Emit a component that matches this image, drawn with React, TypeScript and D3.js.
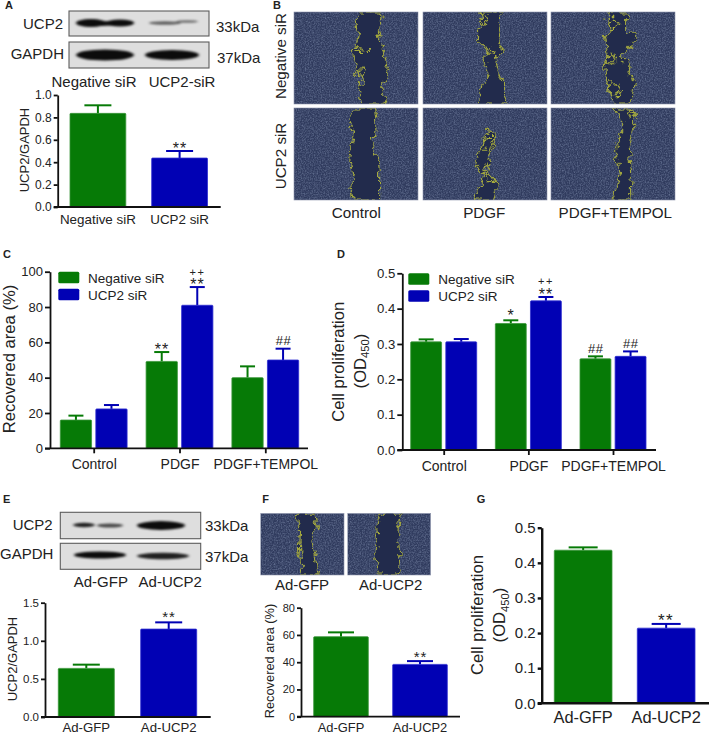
import * as d3 from "d3";
import { useEffect, useRef } from "react";

const FONT = "'Liberation Sans', Arial, sans-serif";
const GREEN = "#067a06";
const BLUE = "#0101b4";
const INK = "#222";

// panel A
const aCategories = ["Negative siR", "UCP2 siR"];
const aValues = [0.836, 0.437];
const aErrors = [0.908, 0.5];
const aTicks = [0, 0.2, 0.4, 0.6, 0.8, 1];

// panel C
const groups = ["Control", "PDGF", "PDGF+TEMPOL"];
const seriesNames = ["Negative siR", "UCP2 siR"];
const cNegative = [16, 49.2, 40];
const cNegativeErr = [18.5, 54.5, 46.4];
const cUcp2 = [22.3, 81, 50];
const cUcp2Err = [24.5, 91.3, 56.4];
const cTicks = [0, 20, 40, 60, 80, 100];

// panel D
const dNegative = [0.306, 0.358, 0.258];
const dNegativeErr = [0.313, 0.367, 0.265];
const dUcp2 = [0.306, 0.422, 0.265];
const dUcp2Err = [0.314, 0.433, 0.279];
const dTicks = [0, 0.1, 0.2, 0.3, 0.4, 0.5];

// panels E, F, G
const adCategories = ["Ad-GFP", "Ad-UCP2"];
const eValues = [0.638, 1.154];
const eErrors = [0.687, 1.242];
const eTicks = [0, 0.5, 1, 1.5];
const fValues = [58.7, 38.4];
const fErrors = [61.9, 40.8];
const fTicks = [0, 20, 40, 60, 80];
const gValues = [0.436, 0.214];
const gErrors = [0.444, 0.226];
const gTicks = [0, 0.1, 0.2, 0.3, 0.4, 0.5];

// wound outlines: [depth %, left edge %, right edge %]
type Row = [number, number, number];
const woundNegControl: Row[] = [[0, 53, 70], [9, 50, 70], [23, 52, 68], [38, 50, 72], [43, 47, 72], [54, 49, 74], [67, 52, 76], [72, 57, 75], [81, 53, 70], [92, 53, 73], [100, 54, 76]];
const woundNegPdgf: Row[] = [[0, 45, 64], [9, 48, 61], [22, 44, 62], [32, 44, 61], [42, 53, 64], [52, 50, 58], [67, 53, 61], [81, 48, 65], [92, 44, 65], [100, 45, 68]];
const woundNegTempol: Row[] = [[0, 46.5, 62], [9, 45, 61], [20, 48, 61], [27, 44, 68], [38, 45, 64], [49, 46.5, 56], [56, 43, 64], [67, 44, 63], [78, 46.5, 68], [88, 48, 67], [100, 50.5, 63]];
const woundUcpControl: Row[] = [[0, 48, 65], [13, 45, 66], [28, 48, 66], [42, 46, 62], [57, 45, 68], [71, 48, 69], [86, 45, 69], [100, 49, 69]];
const woundUcpPdgf: Row[] = [[25, 52, 52.5], [30, 50, 60], [42, 48, 56], [49, 45, 54], [62, 42, 52], [67, 46, 50], [70, 50, 53], [82, 47, 60], [93, 44, 58], [100, 41, 57]];
const woundUcpTempol: Row[] = [[0, 50.5, 64], [13, 57, 69], [28, 57, 65], [42, 53, 63], [57, 53, 64], [71, 56, 65], [86, 53, 64], [100, 49, 64.5]];
const woundAdGfp: Row[] = [[0, 43, 65], [22, 47, 68], [43, 46, 61], [65, 47, 65], [100, 51, 69]];
const woundAdUcp2: Row[] = [[0, 39, 65], [22, 35, 61], [43, 37, 60], [65, 33, 63], [100, 37, 61]];
// small closed loops inside the wound
const loopsNegControl: Row[][] = [[[39, 50, 51], [42, 52, 60], [44, 50, 59]], [[62, 50, 56], [66, 49, 58], [70, 52, 57]]];
const loopsNegPdgf: Row[][] = [[[3, 46, 50], [9, 47, 53], [14, 48, 51]], [[40, 50, 54], [46, 52, 57]]];
const loopsNegTempol: Row[][] = [[[8, 47, 53], [14, 46, 55], [20, 48, 52]], [[76, 47, 52], [84, 46, 56], [92, 48, 54]], [[46, 46, 50], [54, 44, 52]]];
const loopsUcpPdgf: Row[][] = [[[32, 51, 58], [38, 50, 55], [46, 47, 53]], [[72, 50, 54], [80, 52, 58]]];
const loopsUcpTempol: Row[][] = [[[5, 64, 68], [10, 63, 69]]];

function Axis({ scale, side, ticks, tickSize, padding, fontSize, format, width }: any) {
  const ref = useRef<SVGGElement>(null);
  useEffect(() => {
    if (!ref.current) return;
    const axis = (side === "left" ? d3.axisLeft(scale) : d3.axisBottom(scale))
      .tickSizeInner(tickSize)
      .tickSizeOuter(0)
      .tickPadding(padding);
    if (ticks) axis.tickValues(ticks);
    if (format) axis.tickFormat(format);
    const g = d3.select(ref.current).call(axis as any);
    g.attr("font-family", FONT).attr("font-size", fontSize);
    g.selectAll("text").attr("fill", INK);
    g.selectAll("line").attr("stroke", "#111").attr("stroke-width", width);
    g.select(".domain").attr("stroke", "#111").attr("stroke-width", width);
    if (side !== "left") g.select(".domain").remove();
  }, [scale, side, ticks, tickSize, padding, fontSize, format, width]);
  return <g ref={ref} />;
}

function Bars({ bars, y, capWidth, strokeWidth = 2 }: any) {
  return (
    <g>
      {bars.map((b: any, i: number) => (
        <g key={i}>
          <line x1={b.x + b.w / 2} x2={b.x + b.w / 2} y1={y(b.value)} y2={y(b.err)} stroke={b.color} strokeWidth={strokeWidth} />
          <line x1={b.x + b.w / 2 - capWidth / 2} x2={b.x + b.w / 2 + capWidth / 2} y1={y(b.err)} y2={y(b.err)} stroke={b.color} strokeWidth={strokeWidth} />
          <rect x={b.x} y={y(b.value)} width={b.w} height={y(0) - y(b.value)} fill={b.color} stroke={b.color === GREEN ? "#3a953a" : "#2f2fd0"} strokeWidth={0.8} rx={0.8} />
        </g>
      ))}
    </g>
  );
}

function Mark({ x, y, text, size = 16, spacing = 1 }: any) {
  return (
    <text x={x} y={y} textAnchor="middle" fontSize={size} letterSpacing={spacing} fill={INK} fontFamily={FONT}>
      {text}
    </text>
  );
}

function Label({ x, y, text, size = 15, anchor = "middle", rotate = false, bold = false }: any) {
  return (
    <text
      x={rotate ? 0 : x}
      y={rotate ? 0 : y}
      transform={rotate ? `translate(${x},${y}) rotate(-90)` : undefined}
      textAnchor={anchor}
      fontSize={size}
      fontWeight={bold ? "bold" : "normal"}
      fill={INK}
      fontFamily={FONT}
    >
      {text}
    </text>
  );
}

function OdLabel({ x, y, size }: any) {
  return (
    <text transform={`translate(${x},${y}) rotate(-90)`} textAnchor="middle" fontSize={size} fill={INK} fontFamily={FONT}>
      (OD<tspan fontSize={size * 0.68} dy={size * 0.22}>450</tspan>
      <tspan dy={-size * 0.22}>)</tspan>
    </text>
  );
}

function BarChart({ left, right, bottom, top, max, ticks, fmt, fontSize, start, end, barWidth, categories, values, errors, labelSize, labelY, capWidth, axisWidth = 1.8, stroke = 2 }: any) {
  const y = d3.scaleLinear().domain([0, max]).range([bottom, top]);
  const x = d3.scaleBand<string>().domain(categories).range([start, end]);
  const step = (end - start - barWidth) / (categories.length - 1);
  x.paddingInner(1 - barWidth / step).paddingOuter(0);
  const bars = categories.map((c: string, i: number) => ({ x: x(c), w: x.bandwidth(), value: values[i], err: errors[i], color: i === 0 ? GREEN : BLUE }));
  return (
    <g>
      <Bars bars={bars} y={y} capWidth={capWidth} strokeWidth={stroke} />
      <g transform={`translate(${left},0)`}>
        <Axis scale={y} side="left" ticks={ticks} tickSize={4} padding={2} fontSize={fontSize} format={fmt} width={axisWidth} />
      </g>
      <line x1={left - 4} x2={right} y1={y(0)} y2={y(0)} stroke="#111" strokeWidth={axisWidth} />
      <g transform={`translate(0,${labelY})`}>
        <Axis scale={x} side="bottom" tickSize={0} padding={0} fontSize={labelSize} width={0} />
      </g>
    </g>
  );
}

function GroupChart({ left, right, bottom, top, max, ticks, fmt, fontSize, first, last, inner, neg, negErr, ucp, ucpErr, cap, labelY }: any) {
  const y = d3.scaleLinear().domain([0, max]).range([bottom, top]);
  const x = d3.scalePoint<string>().domain(groups).range([first, last]);
  const sub = d3.scaleBand<string>().domain(seriesNames).range([-inner, inner]).paddingInner(0.12);
  const bars = groups.flatMap((g, i) => [
    { x: x(g)! + sub(seriesNames[0])!, w: sub.bandwidth(), value: neg[i], err: negErr[i], color: GREEN },
    { x: x(g)! + sub(seriesNames[1])!, w: sub.bandwidth(), value: ucp[i], err: ucpErr[i], color: BLUE },
  ]);
  return (
    <g>
      <Bars bars={bars} y={y} capWidth={cap} />
      <g transform={`translate(${left},0)`}>
        <Axis scale={y} side="left" ticks={ticks} tickSize={5} padding={2} fontSize={fontSize} format={fmt} width={1.8} />
      </g>
      <line x1={left - 5} x2={right} y1={y(0)} y2={y(0)} stroke="#111" strokeWidth={1.8} />
      <g transform={`translate(0,${bottom})`}>
        <Axis scale={x} side="bottom" tickSize={5} padding={labelY} fontSize={14} width={1.8} />
      </g>
    </g>
  );
}

function Legend({ x, y, textX }: any) {
  return (
    <g>
      {seriesNames.map((s, i) => (
        <g key={s}>
          <rect x={x} y={y + i * 17} width={21} height={11.5} rx={1.5} fill={i === 0 ? GREEN : BLUE} />
          <Label x={textX} y={y + 11 + i * 17} text={s} size={13.5} anchor="start" />
        </g>
      ))}
    </g>
  );
}

function Tile({ id, x0, x1, y0, y1, rows, loops = [] }: any) {
  const x = d3.scaleLinear().domain([0, 100]).range([x0, x1]);
  const y = d3.scaleLinear().domain([0, 100]).range([y0, y1]);
  const area = d3.area<Row>().x0((d) => x(d[1])).x1((d) => x(d[2])).y((d) => y(d[0]));
  return (
    <g>
      <clipPath id={id}>
        <rect x={x0} y={y0} width={x1 - x0} height={y1 - y0} />
      </clipPath>
      <g clipPath={`url(#${id})`}>
        <rect x={x0} y={y0} width={x1 - x0} height={y1 - y0} fill="#303b5e" />
        <rect x={x0} y={y0} width={x1 - x0} height={y1 - y0} filter="url(#cells)" />
        <g filter="url(#jag)">
          <path d={area(rows) ?? ""} fill="#222b4c" stroke="none" />
          <path d={area(rows) ?? ""} fill="none" stroke="#a6ab3e" strokeWidth={1.1} />
          {loops.map((l: Row[], i: number) => (
            <path key={i} d={area(l) ?? ""} fill="none" stroke="#a6ab3e" strokeWidth={1.1} />
          ))}
        </g>
      </g>
      <rect x={x0} y={y0} width={x1 - x0} height={y1 - y0} fill="none" stroke="#8c93ab" strokeWidth={0.6} />
    </g>
  );
}

function Blot({ x, y, w, h, bands }: any) {
  return (
    <g>
      <rect x={x} y={y} width={w} height={h} fill="#dedede" />
      <g filter="url(#band)">
        {bands.map((b: number[], i: number) => (
          <ellipse key={i} cx={b[0]} cy={b[1]} rx={b[2]} ry={b[3]} fill="#0c0c0c" opacity={b[4]} />
        ))}
      </g>
      <rect x={x} y={y} width={w} height={h} fill="none" stroke="#5c5c5c" strokeWidth={1.1} />
    </g>
  );
}

export default function App() {
  const yC = d3.scaleLinear().domain([0, 100]).range([448.3, 271.7]);
  const yD = d3.scaleLinear().domain([0, 0.5]).range([450, 273.3]);
  const yA = d3.scaleLinear().domain([0, 1]).range([207, 95]);
  const yE = d3.scaleLinear().domain([0, 1.5]).range([717, 602.7]);
  const yF = d3.scaleLinear().domain([0, 80]).range([716.7, 607.7]);
  const yG = d3.scaleLinear().domain([0, 0.5]).range([703.3, 527.7]);
  const f1 = d3.format(".1f");
  return (
    <svg width={709} height={735} style={{ position: "absolute", left: 0, top: 0, background: "#fff" }}>
      <defs>
        <filter id="cells" x="0" y="0" width="100%" height="100%" colorInterpolationFilters="sRGB">
          <feTurbulence type="fractalNoise" baseFrequency="0.75" numOctaves={2} seed={4} />
          <feColorMatrix type="matrix" values="0 0 0 0 0.6  0 0 0 0 0.66  0 0 0 0 0.78  0.9 0 0 0 -0.33" />
          <feGaussianBlur stdDeviation="0.35" />
        </filter>
        <filter id="jag" x="-5%" y="-5%" width="110%" height="110%" colorInterpolationFilters="sRGB">
          <feTurbulence type="fractalNoise" baseFrequency="0.16" numOctaves={2} seed={9} result="n" />
          <feDisplacementMap in="SourceGraphic" in2="n" scale={11} xChannelSelector="R" yChannelSelector="G" />
        </filter>
        <filter id="band" x="-10%" y="-40%" width="120%" height="180%" colorInterpolationFilters="sRGB">
          <feGaussianBlur stdDeviation="1.6 1.1" />
        </filter>
      </defs>

      {/* A */}
      <Label x={5} y={9} text="A" size={11} anchor="start" bold />
      <Blot x={69} y={11} w={140} h={25} bands={[[91, 23, 15, 4, 1], [120, 23, 14, 3.4, 1], [104, 23.5, 12, 2.4, 0.9], [165, 23, 16, 1.8, 0.6], [187, 21.5, 11, 1.3, 0.55]]} />
      <Blot x={69} y={42} w={140} h={26} bands={[[105, 55, 29, 5.5, 1], [172, 55, 27, 5, 1]]} />
      <Label x={63} y={29} text="UCP2" anchor="end" />
      <Label x={64} y={59} text="GAPDH" anchor="end" />
      <Label x={216} y={32} text="33kDa" anchor="start" />
      <Label x={217} y={63} text="37kDa" anchor="start" />
      <Label x={94} y={87} text="Negative siR" />
      <Label x={182} y={87} text="UCP2-siR" />
      <BarChart left={57.7} right={220.7} bottom={207} top={95} max={1} ticks={aTicks} fmt={f1} fontSize={12} start={70} end={207.5} barWidth={55.8} categories={aCategories} values={aValues} errors={aErrors} labelSize={13.4} labelY={214} capWidth={27} />
      <Label x={29} y={150} text="UCP2/GAPDH" size={13} rotate />
      <Mark x={180} y={yA(aErrors[1]) + 3} text="**" />

      {/* B */}
      <Label x={273} y={9} text="B" size={11} anchor="start" bold />
      <Tile id="t1" x0={294} x1={418} y0={12} y1={104} rows={woundNegControl} loops={loopsNegControl} />
      <Tile id="t2" x0={423} x1={547} y0={12} y1={104} rows={woundNegPdgf} loops={loopsNegPdgf} />
      <Tile id="t3" x0={551} x1={675} y0={12} y1={104} rows={woundNegTempol} loops={loopsNegTempol} />
      <Tile id="t4" x0={294} x1={418} y0={108} y1={200} rows={woundUcpControl} />
      <Tile id="t5" x0={423} x1={547} y0={108} y1={200} rows={woundUcpPdgf} loops={loopsUcpPdgf} />
      <Tile id="t6" x0={551} x1={675} y0={108} y1={200} rows={woundUcpTempol} loops={loopsUcpTempol} />
      <Label x={285.7} y={56} text="Negative siR" size={15.2} rotate />
      <Label x={285.7} y={156} text="UCP2 siR" size={15.2} rotate />
      <Label x={356.3} y={218.3} text="Control" size={15.2} />
      <Label x={484.3} y={218.3} text="PDGF" size={15.2} />
      <Label x={615.3} y={218.3} text="PDGF+TEMPOL" size={15.2} />

      {/* C */}
      <Label x={3} y={257.7} text="C" size={11} anchor="start" bold />
      <GroupChart left={50} right={308} bottom={448.3} top={271.7} max={100} ticks={cTicks} fontSize={13} first={93.7} last={265.3} inner={33.4} neg={cNegative} negErr={cNegativeErr} ucp={cUcp2} ucpErr={cUcp2Err} cap={15} labelY={6} />
      <Legend x={58.3} y={271.7} textX={88} />
      <Label x={15} y={359} text="Recovered area (%)" size={16.6} rotate />
      <Mark x={162} y={yC(cNegativeErr[1]) + 3} text="**" />
      <Mark x={197.5} y={yC(cUcp2Err[1]) + 3} text="**" />
      <Mark x={197.5} y={yC(cUcp2Err[1]) - 11.5} text="++" size={11} spacing={1.5} />
      <Mark x={283.5} y={yC(cUcp2Err[2]) - 3.3} text="##" size={13} spacing={0.5} />

      {/* D */}
      <Label x={337} y={257.7} text="D" size={11} anchor="start" bold />
      <GroupChart left={402.3} right={656} bottom={450} top={273.3} max={0.5} ticks={dTicks} fmt={f1} fontSize={13.2} first={443.7} last={613} inner={33} neg={dNegative} negErr={dNegativeErr} ucp={dUcp2} ucpErr={dUcp2Err} cap={15} labelY={6} />
      <Legend x={408.3} y={273.3} textX={438.3} />
      <Label x={344} y={361.7} text="Cell proliferation" size={16.6} rotate />
      <OdLabel x={365.6} y={361} size={16.6} />
      <Mark x={511} y={yD(dNegativeErr[1]) + 1} text="*" />
      <Mark x={546} y={yD(dUcp2Err[1]) + 3} text="**" />
      <Mark x={546} y={yD(dUcp2Err[1]) - 11.5} text="++" size={11} spacing={1.5} />
      <Mark x={595.7} y={yD(dNegativeErr[2]) - 3.3} text="##" size={13} spacing={0.5} />
      <Mark x={630.7} y={yD(dUcp2Err[2]) - 3.3} text="##" size={13} spacing={0.5} />

      {/* E */}
      <Label x={3} y={502.7} text="E" size={11} anchor="start" bold />
      <Blot x={60.3} y={512.3} w={140.4} h={26.4} bands={[[84, 525, 11, 2.2, 0.9], [110, 525.5, 13, 2, 0.7], [161, 525.5, 24, 4.4, 1]]} />
      <Blot x={60.3} y={543.3} w={140.4} h={26} bands={[[100, 555, 26, 3.6, 1], [163, 556, 26, 3.2, 0.9]]} />
      <Label x={52.7} y={530} text="UCP2" anchor="end" />
      <Label x={53.3} y={559.3} text="GAPDH" anchor="end" />
      <Label x={205} y={530.7} text="33kDa" anchor="start" />
      <Label x={205} y={562} text="37kDa" anchor="start" />
      <Label x={100.8} y={586.7} text="Ad-GFP" />
      <Label x={170.3} y={586.7} text="Ad-UCP2" />
      <BarChart left={45} right={210.7} bottom={717} top={602.7} max={1.5} ticks={eTicks} fmt={f1} fontSize={11.5} start={58.3} end={196.7} barWidth={56} categories={adCategories} values={eValues} errors={eErrors} labelSize={13.2} labelY={723} capWidth={27} />
      <Label x={16.7} y={659} text="UCP2/GAPDH" size={13} rotate />
      <Mark x={169} y={yE(eErrors[1]) - 0.5} text="**" size={15} />

      {/* F */}
      <Label x={262.3} y={502.7} text="F" size={11} anchor="start" bold />
      <Tile id="t7" x0={260.7} x1={344} y0={513.3} y1={575} rows={woundAdGfp} />
      <Tile id="t8" x0={347.7} x1={430.7} y0={513.3} y1={575} rows={woundAdUcp2} />
      <Label x={302} y={590} text="Ad-GFP" />
      <Label x={390.7} y={590} text="Ad-UCP2" />
      <BarChart left={301} right={460} bottom={716.7} top={607.7} max={80} ticks={fTicks} fontSize={11} start={313.7} end={447.3} barWidth={54.6} categories={adCategories} values={fValues} errors={fErrors} labelSize={12.9} labelY={723} capWidth={26} />
      <Label x={274.3} y={661} text="Recovered area (%)" size={12.8} rotate />
      <Mark x={420.5} y={yF(fErrors[1]) + 1} text="**" size={15} />

      {/* G */}
      <Label x={476.7} y={502.7} text="G" size={11} anchor="start" bold />
      <BarChart left={541.7} right={709} bottom={703.3} top={527.7} max={0.5} ticks={gTicks} fmt={f1} fontSize={15} start={554.3} end={695} barWidth={57.7} categories={adCategories} values={gValues} errors={gErrors} labelSize={16.4} labelY={711} capWidth={29} axisWidth={2.4} />
      <Label x={483} y={615} text="Cell proliferation" size={16.6} rotate />
      <OdLabel x={505} y={615} size={16.6} />
      <Mark x={666} y={yG(gErrors[1]) + 2} text="**" size={17} spacing={1.5} />
    </svg>
  );
}
